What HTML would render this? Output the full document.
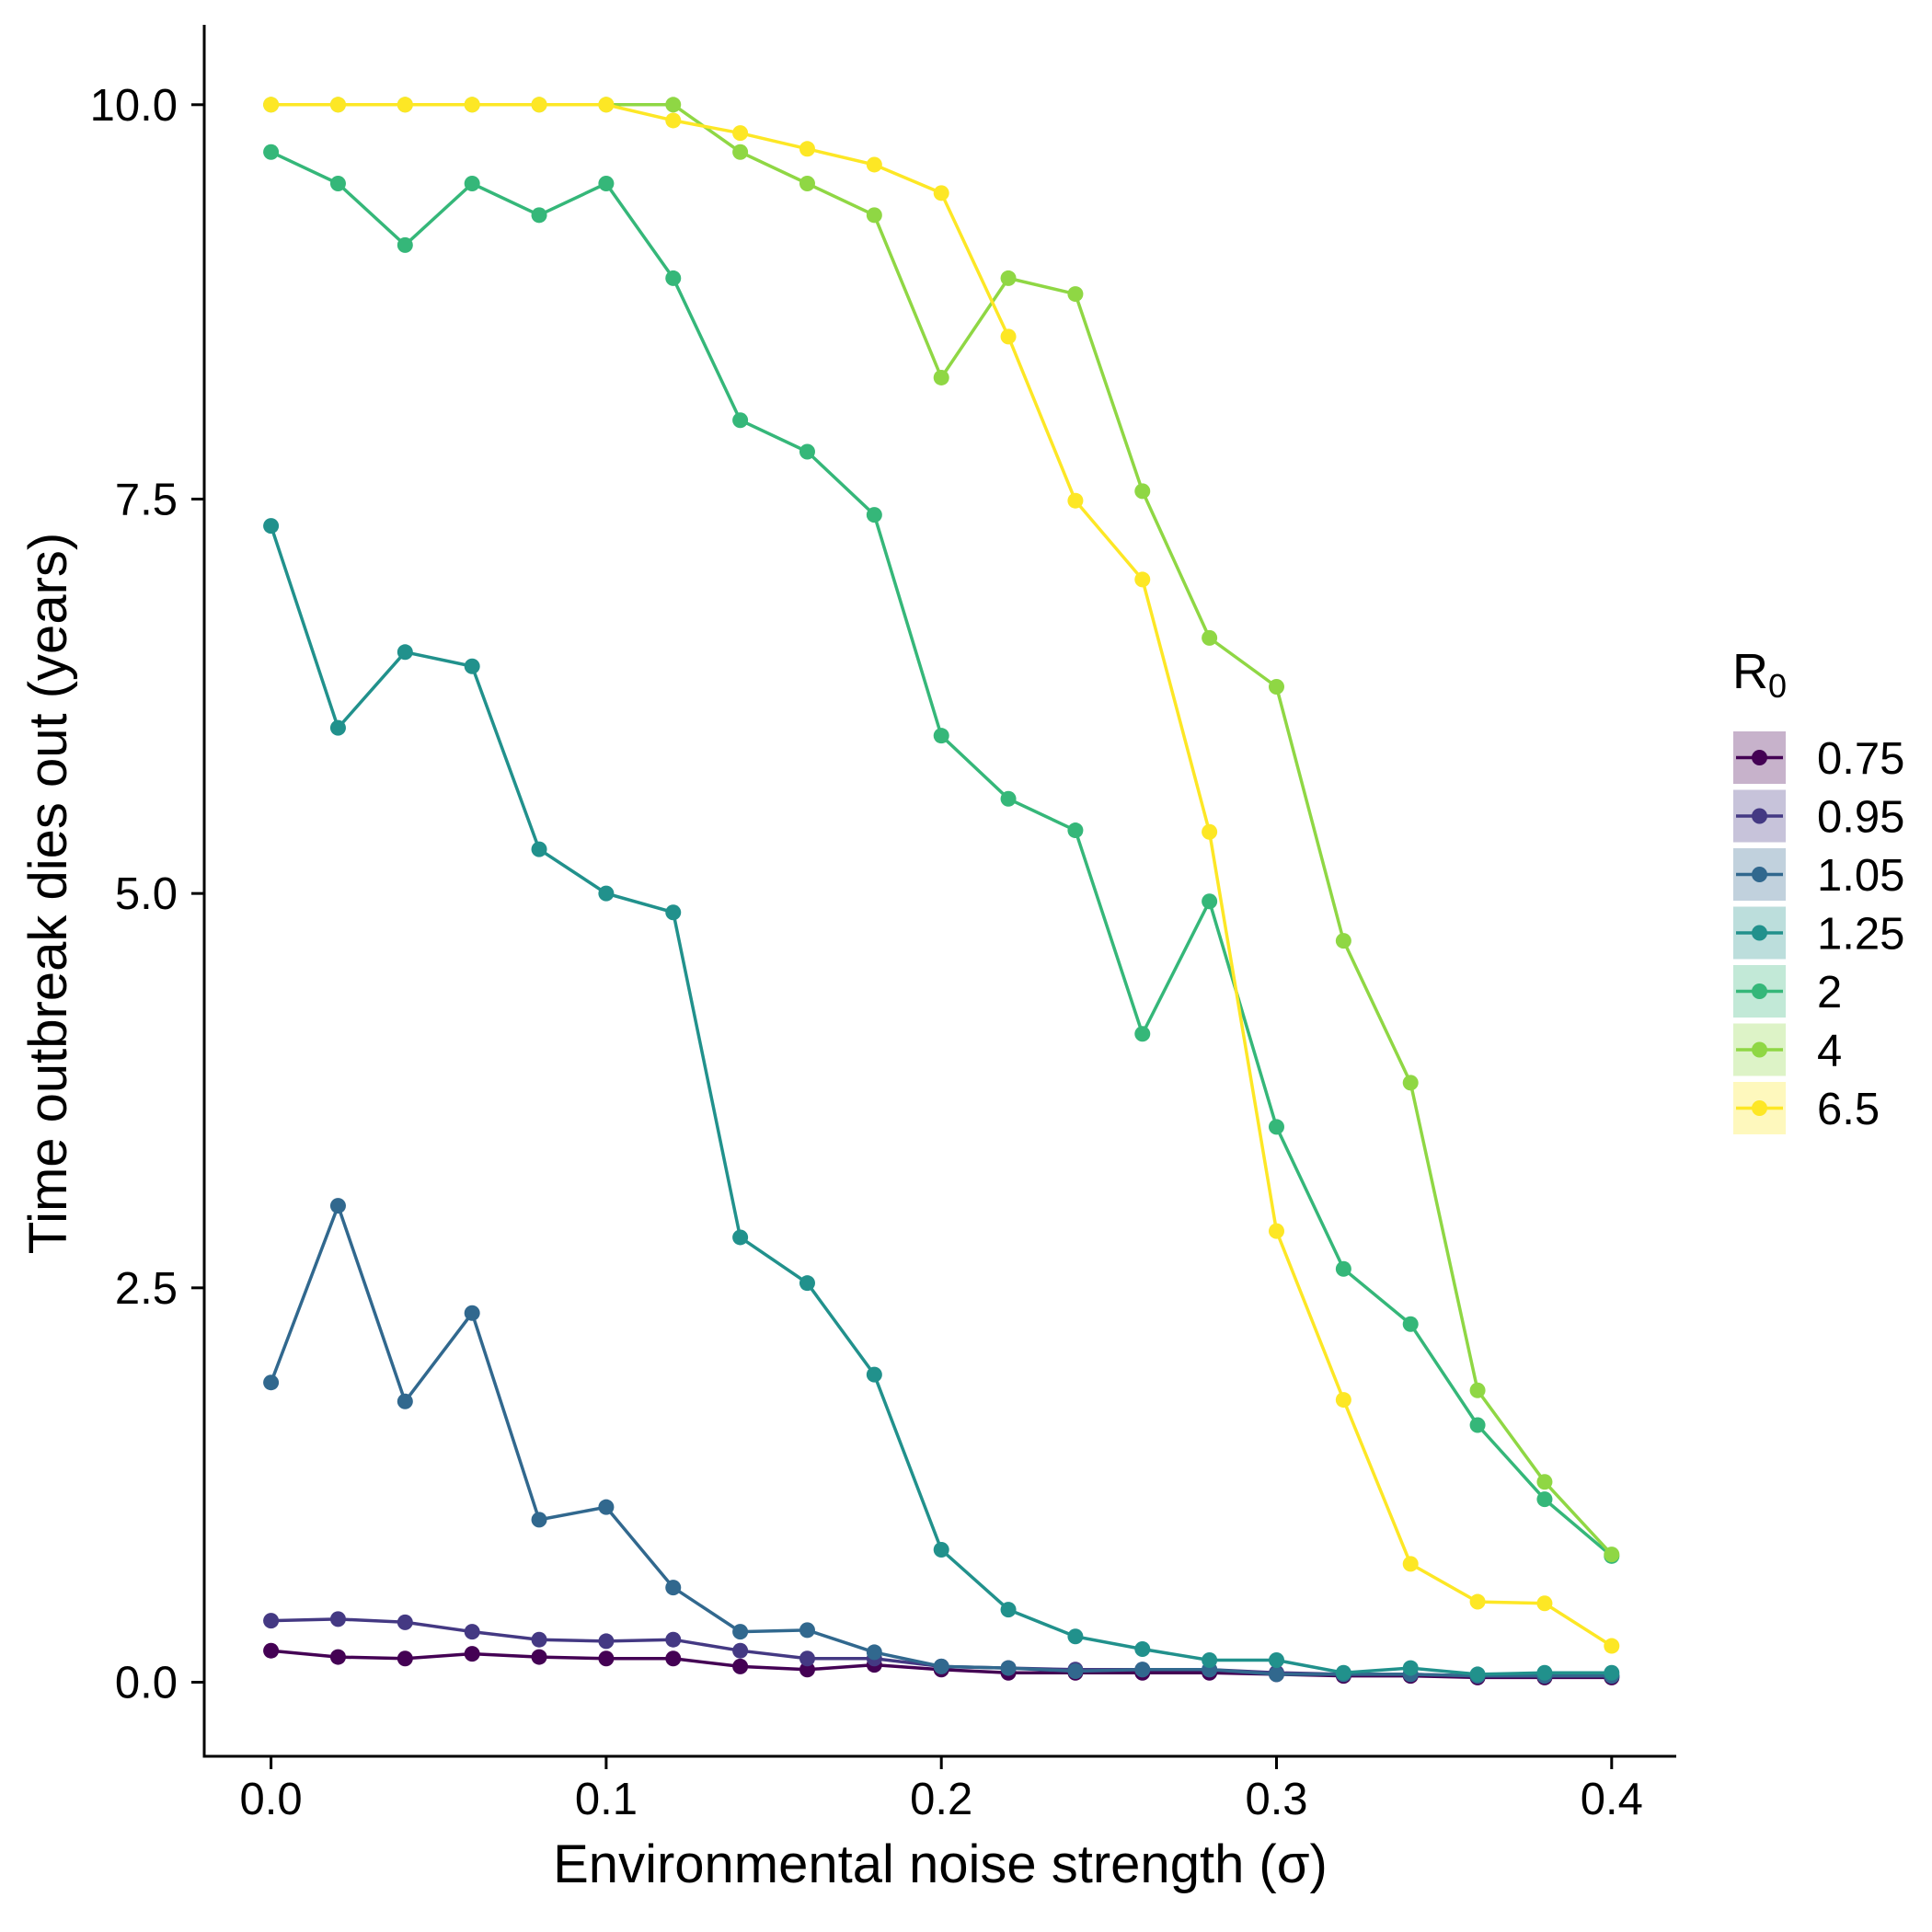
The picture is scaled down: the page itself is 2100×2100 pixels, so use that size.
<!DOCTYPE html>
<html><head><meta charset="utf-8"><style>
html,body{margin:0;padding:0;background:#fff}
svg{display:block}
text{font-family:"Liberation Sans",Arial,sans-serif;fill:#000}
</style></head><body>
<svg id="chart" width="2100" height="2100" viewBox="0 0 2100 2100" xmlns="http://www.w3.org/2000/svg">
<g id="plot"></g>
<g id="axes"></g>
<g id="legend"></g>
</svg>
<script>
const xValues=[0,0.02,0.04,0.06,0.08,0.1,0.12,0.14,0.16,0.18,0.2,0.22,0.24,0.26,0.28,0.3,0.32,0.34,0.36,0.38,0.4];
const seriesNames=["0.75","0.95","1.05","1.25","2","4","6.5"];
const seriesColors=["#440154","#443983","#31688e","#21918c","#35b779","#8fd744","#fde725"];
const s075=[0.20,0.16,0.15,0.18,0.16,0.15,0.15,0.10,0.08,0.11,0.08,0.06,0.06,0.06,0.06,0.05,0.04,0.04,0.03,0.03,0.03];
const s095=[0.39,0.40,0.38,0.32,0.27,0.26,0.27,0.20,0.15,0.15,0.10,0.09,0.08,0.08,0.08,0.06,0.05,0.05,0.04,0.04,0.04];
const s105=[1.90,3.02,1.78,2.34,1.03,1.11,0.60,0.32,0.33,0.19,0.10,0.09,0.07,0.08,0.08,0.05,0.05,0.05,0.04,0.04,0.04];
const s125=[7.33,6.05,6.53,6.44,5.28,5.00,4.88,2.82,2.53,1.95,0.84,0.46,0.29,0.21,0.14,0.14,0.06,0.09,0.05,0.06,0.06];
const s2=[9.70,9.50,9.11,9.50,9.30,9.50,8.90,8.00,7.80,7.40,6.00,5.60,5.40,4.11,4.95,3.52,2.62,2.27,1.63,1.16,0.80];
const s4=[10,10,10,10,10,10,10,9.70,9.50,9.30,8.27,8.90,8.80,7.55,6.62,6.31,4.70,3.80,1.85,1.27,0.81];
const s65=[10,10,10,10,10,10,9.90,9.82,9.72,9.62,9.44,8.53,7.49,6.99,5.39,2.86,1.79,0.75,0.51,0.50,0.23];
const allSeries=[s075,s095,s105,s125,s2,s4,s65];
const xTicks=[0,0.1,0.2,0.3,0.4];
const xTickLabels=["0.0","0.1","0.2","0.3","0.4"];
const yTicks=[0,2.5,5,7.5,10];
const yTickLabels=["0.0","2.5","5.0","7.5","10.0"];

const NS="http://www.w3.org/2000/svg";
const X0=294.6,X1=1751.8,Y0=1828.5,Y10=113.8;
const xs=v=>X0+(X1-X0)*v/0.4;
const ys=v=>Y0+(Y10-Y0)*v/10;
function mk(tag,attrs,parent){const e=document.createElementNS(NS,tag);for(const k in attrs)e.setAttribute(k,attrs[k]);parent.appendChild(e);return e;}
const plot=document.getElementById('plot'),axes=document.getElementById('axes'),legend=document.getElementById('legend');

allSeries.forEach((s,i)=>{
  const g=mk('g',{},plot);
  
  
  const pts=s.map((v,j)=>xs(xValues[j]).toFixed(1)+','+ys(v).toFixed(1)).join(' ');
  const pl=mk('polyline',{points:pts,fill:'none',stroke:seriesColors[i],'stroke-width':3.5},g);
  
  
  s.forEach((v,j)=>{
    const c=mk('circle',{cx:xs(xValues[j]),cy:ys(v),r:8.5,fill:seriesColors[i]},g);
    
    
  });
});

const ax=mk('path',{d:'M222,27 V1909 H1822',fill:'none',stroke:'#000','stroke-width':3},axes);


xTicks.forEach((t,i)=>{
  const x=xs(t);
  mk('line',{x1:x,x2:x,y1:1909,y2:1923,stroke:'#000','stroke-width':3},axes);
  const tx=mk('text',{x:x,y:1972,'font-size':49,'text-anchor':'middle'},axes);
  tx.textContent=xTickLabels[i];
  
  
});
yTicks.forEach((t,i)=>{
  const y=ys(t);
  mk('line',{x1:208,x2:222,y1:y,y2:y,stroke:'#000','stroke-width':3},axes);
  const tx=mk('text',{x:193,y:y+17,'font-size':49,'text-anchor':'end'},axes);
  tx.textContent=yTickLabels[i];
  
  
});
const xt=mk('text',{x:1022,y:2046,'font-size':58,'text-anchor':'middle'},axes);
xt.textContent='Environmental noise strength (σ)';


const yt=mk('text',{x:0,y:0,'font-size':58,'text-anchor':'middle',transform:'translate(72,971) rotate(-90)'},axes);
yt.textContent='Time outbreak dies out (years)';



const lt=mk('text',{x:1883,y:748,'font-size':54},legend);


lt.appendChild(document.createTextNode('R'));
const sub=mk('tspan',{'font-size':36,dy:10},lt);sub.textContent='0';
seriesNames.forEach((n,i)=>{
  const top=795+i*63.5;
  const g=mk('g',{},legend);
  
  
  mk('rect',{x:1884,y:top,width:57,height:57,fill:seriesColors[i],'fill-opacity':0.3},g);
  mk('line',{x1:1887,x2:1938,y1:top+28.5,y2:top+28.5,stroke:seriesColors[i],'stroke-width':3.5},g);
  mk('circle',{cx:1912.5,cy:top+28.5,r:8.5,fill:seriesColors[i]},g);
  const t=mk('text',{x:1975,y:top+46,'font-size':49},g);
  t.textContent=n;
});
</script>
</body></html>
